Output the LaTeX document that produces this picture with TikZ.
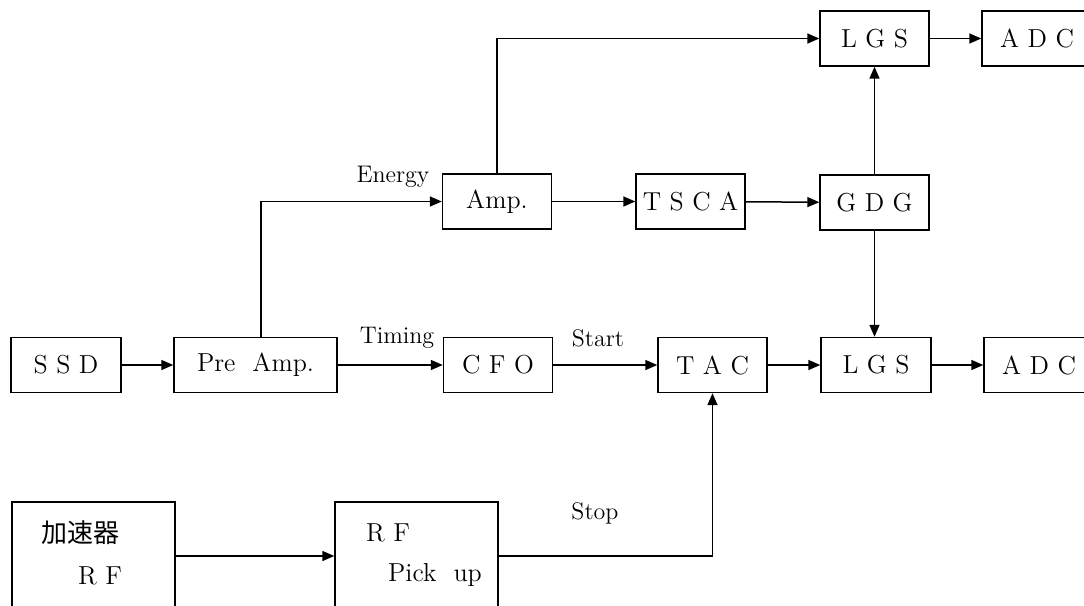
\documentclass[tikz,border=0pt]{standalone}
\usepackage{fontspec}
\newfontfamily\cjkfont{Noto Sans CJK JP}
\usetikzlibrary{arrows.meta,positioning,calc}
\tikzset{
  blk/.style={draw, line width=0.7pt, minimum width=54.5pt, minimum height=27.5pt,
              inner sep=0pt, font=\fontsize{13}{15}\selectfont},
  wblk/.style={blk, minimum width=81.5pt},
  tall/.style={draw, line width=0.7pt, minimum width=81.5pt, minimum height=54pt, inner sep=0pt},
  lbl/.style={font=\fontsize{12}{14}\selectfont, inner sep=0pt},
  txt/.style={font=\fontsize{13}{15}\selectfont, inner sep=0pt},
  flow/.style={-{Triangle[length=6pt,width=5pt]}, line width=0.75pt},
}

\begin{document}
\begin{tikzpicture}[x=0.5pt, y=-0.5pt]
  \useasboundingbox (0,0) rectangle (1084,606);
  \clip (0,0) rectangle (1084,606);
  % timing row
  \node[blk, minimum width=55pt] (ssd) at (66,365) {S S D};
  \node[wblk] (pre) at (255.5,365) {Pre\ \ Amp.};
  \node[blk] (cfo) at (498,365) {C F O};
  \node[blk] (tac) at (712.5,365) {T A C};
  \node[blk, minimum width=55pt] (lgsb) at (876,365) {L G S};
  \node[blk, minimum width=55pt] (adcb) at (1039,365) {A D C};
  % energy row
  \node[blk] (amp) at (497,201.5) {Amp.};
  \node[blk] (tsca) at (690.5,201.5) {T S C A};
  \node[blk] (gdg) at (874.5,202.5) {G D G};
  \node[blk] (lgst) at (874.5,38.5) {L G S};
  \node[blk, minimum width=55pt] (adct) at (1037,38.5) {A D C};
  % RF row
  \node[tall] (acc) at (93.5,556) {};
  \node[tall] (pk) at (416.5,556) {};
  \node[txt] (acct) at (80,533) {\cjkfont 加速器};
  \node[txt] (accrf) at (100,576) {R F};
  \node[txt] (pkrf) at (388,533) {R F};
  \node[txt] (pkup) at (435,575) {Pick\ \ up};
  % labels
  \node[lbl] (energy) at (393,177) {Energy};
  \node[lbl] (timing) at (397,338) {Timing};
  \node[lbl] (start) at (598,338) {Start};
  \node[lbl] (stop) at (595,513) {Stop};
  % connectors
  \draw[flow] (ssd) -- (pre);
  \draw[flow] (pre) -- (cfo);
  \draw[flow] (cfo) -- (tac);
  \draw[flow] (tac) -- (lgsb);
  \draw[flow] (lgsb) -- (adcb);
  \draw[flow] ([xshift=2.75pt]pre.north) |- (amp.west);
  \draw[flow] (amp) -- (tsca);
  \draw[flow] (tsca) -- (gdg);
  \draw[flow] (amp.north) |- (lgst.west);
  \draw[flow] (lgst) -- (adct);
  \draw[flow] (gdg) -- (lgst);
  \draw[flow] (gdg.south) -- (gdg.south |- lgsb.north);
  \draw[flow] (acc) -- (pk);
  \draw[flow] (pk.east) -| (tac.south);
\end{tikzpicture}
\end{document}
